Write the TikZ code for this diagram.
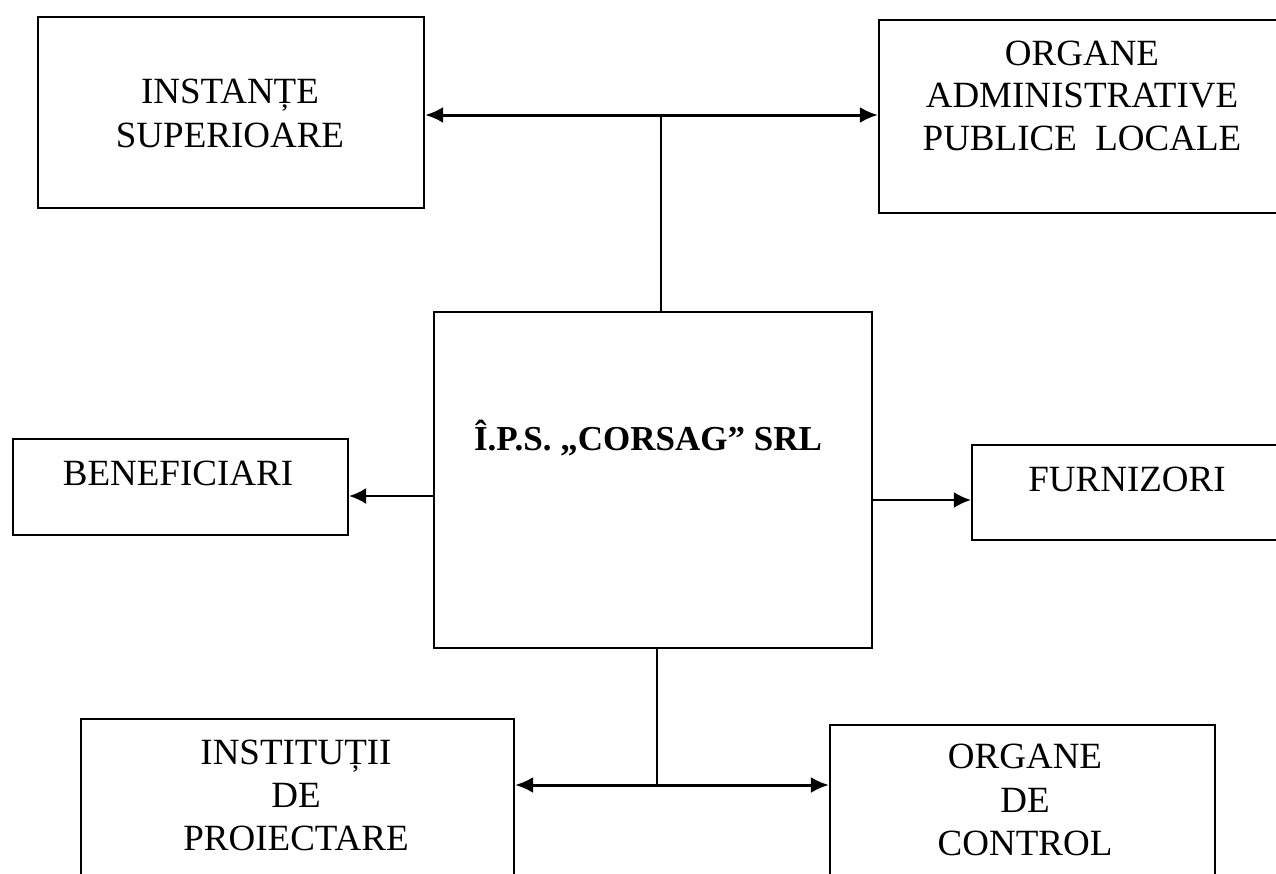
\documentclass[tikz,border=0pt]{standalone}
\usepackage{fontspec}
\setmainfont{Liberation Serif}
\usetikzlibrary{arrows.meta}
\begin{document}
\begin{tikzpicture}[x=1pt,y=-1pt,
  box/.style={draw=black,line width=2.2pt,rectangle,inner sep=0pt},
  txt/.style={anchor=base,inner sep=0pt,font=\fontsize{37}{43}\selectfont},
  btxt/.style={anchor=base,inner sep=0pt,font=\fontsize{35}{42}\selectfont\bfseries},
  link/.style={line width=1.8pt},
  dbl/.style={line width=3pt,{Latex[length=18pt,width=16pt]}-{Latex[length=18pt,width=16pt]}},
  arr/.style={line width=2.2pt,-{Latex[length=17pt,width=16pt]}}]
\useasboundingbox (0,0) rectangle (1276,873);
\clip (0,0) rectangle (1276,873);
\fill[white] (0,0) rectangle (1276,873);
% boxes
\node[box,minimum width=386pt,minimum height=191pt] (inst) at (231,112.5) {};
\node[box,minimum width=411pt,minimum height=193pt] (admin) at (1084.5,116.5) {};
\node[box,minimum width=438pt,minimum height=336pt] (corsag) at (653,480) {};
\node[box,minimum width=335pt,minimum height=96pt] (benef) at (180.5,487) {};
\node[box,minimum width=330pt,minimum height=95pt] (furn) at (1137,492.5) {};
\node[box,minimum width=433pt,minimum height=170pt] (proj) at (297.5,804) {};
\node[box,minimum width=385pt,minimum height=165pt] (ctrl) at (1022.5,807.5) {};
% texts
\node[txt] (t1a) at (230,103) {INSTANȚE};
\node[txt] (t1b) at (230,147) {SUPERIOARE};
\node[txt] (t2a) at (1082,65) {ORGANE};
\node[txt] (t2b) at (1082,107) {ADMINISTRATIVE};
\node[txt] (t2c) at (1082,150) {PUBLICE\ \ LOCALE};
\node[btxt] (t3) at (648,450) {Î.P.S. „CORSAG” SRL};
\node[txt] (t4) at (178,485) {BENEFICIARI};
\node[txt] (t5) at (1127,491) {FURNIZORI};
\node[txt] (t6a) at (296,764) {INSTITUȚII};
\node[txt] (t6b) at (296,807) {DE};
\node[txt] (t6c) at (296,850) {PROIECTARE};
\node[txt] (t7a) at (1025,768) {ORGANE};
\node[txt] (t7b) at (1025,812) {DE};
\node[txt] (t7c) at (1025,855) {CONTROL};
% connectors
\coordinate (j1) at (661,115);
\draw[link] (j1) -- (j1 |- corsag.north);
\draw[dbl] (j1 -| inst.east) -- (j1 -| admin.west);
\coordinate (j2) at (657,785);
\draw[link] (j2 |- corsag.south) -- (j2);
\draw[dbl] (j2 -| proj.east) -- (j2 -| ctrl.west);
\draw[arr] ([yshift=-16pt]corsag.west) -- ([yshift=-16pt]corsag.west -| benef.east);
\draw[arr] ([yshift=-20pt]corsag.east) -- ([yshift=-20pt]corsag.east -| furn.west);
\end{tikzpicture}
\end{document}
